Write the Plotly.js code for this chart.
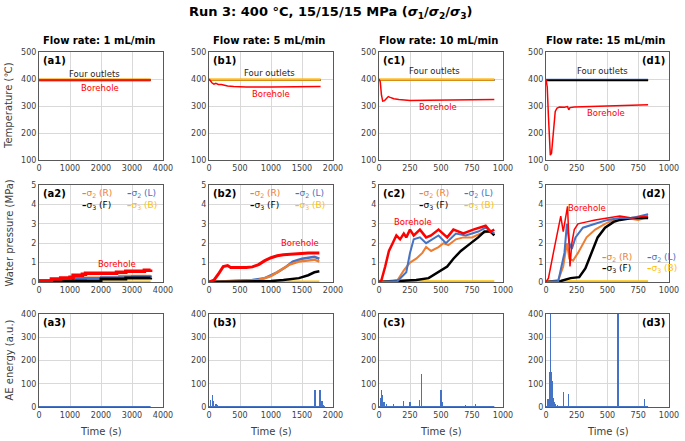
<!DOCTYPE html>
<html><head><meta charset="utf-8">
<script src="https://cdn.plot.ly/plotly-3.0.1.min.js"></script>
<style>html,body{margin:0;padding:0;background:#fff}</style>
</head><body>
<div id="chart" style="width:685px;height:441px"></div>
<script>
// colours, Excel style
const RED = '#FF0000', ORANGE = '#ED7D31', BLUE = '#4472C4', BLACK = '#000000', YELLOW = '#FFC000';

const panelTitles = ['Flow rate: 1 mL/min', 'Flow rate: 5 mL/min', 'Flow rate: 10 mL/min', 'Flow rate: 15 mL/min'];
const panelTags = ['(a1)', '(b1)', '(c1)', '(d1)', '(a2)', '(b2)', '(c2)', '(d2)', '(a3)', '(b3)', '(c3)', '(d3)'];
const rowTitles = ['Temperature (\u2103)', 'Water pressure (MPa)', 'AE energy (a.u.)'];
const xMax = [4000, 2000, 1000, 1000];
const xStep = [1000, 500, 250, 250];
const yLims = [[100, 500], [0, 5], [0, 400]];
const yStep = [100, 1, 100];

// ---- temperature (row 1) ----
const a1_time = [0, 3600];
const a1_outR = [397, 397], a1_outL = [396, 396], a1_outF = [395, 395], a1_outB = [398, 398];
const a1_boreT = [0, 3600];
const a1_bore = [396, 396];

const b1_time = [0, 1800];
const b1_outR = [397, 397], b1_outL = [396, 396], b1_outF = [396, 396], b1_outB = [398, 398];
const b1_boreT = [0, 20, 50, 80, 110, 150, 200, 250, 300, 400, 600, 1000, 1400, 1800];
const b1_bore = [400, 393, 385, 381, 384, 380, 380, 377, 374, 372, 370, 370, 371, 372];

const c1_time = [0, 930];
const c1_outR = [397, 397], c1_outL = [396, 396], c1_outF = [396, 396], c1_outB = [398, 398];
const c1_boreT = [0, 10, 20, 30, 45, 60, 75, 90, 120, 160, 200, 250, 400, 600, 800, 930];
const c1_bore = [400, 390, 340, 318, 320, 328, 335, 332, 327, 324, 322, 320, 321, 322, 323, 324];

const d1_time = [0, 830];
const d1_outR = [396, 396], d1_outL = [397, 397], d1_outB = [396, 396], d1_outF = [395, 395];
const d1_boreT = [0, 10, 20, 28, 35, 45, 55, 65, 75, 90, 110, 150, 175, 185, 195, 230, 300, 400, 500, 600, 700, 830];
const d1_bore = [400, 370, 260, 160, 118, 125, 170, 240, 280, 292, 296, 295, 298, 286, 294, 296, 297, 299, 301, 302, 303, 305];

// ---- water pressure (row 2) ----
const a2_boreT = [0, 350, 400, 700, 1000, 1100, 1400, 1500, 2500, 2800, 3400, 3600];
const a2_bore = [0.05, 0.05, 0.15, 0.2, 0.25, 0.35, 0.4, 0.45, 0.5, 0.55, 0.6, 0.65];
const a2_rT = [0, 400, 1000, 1500, 2600, 3600];
const a2_r = [0.02, 0.05, 0.15, 0.2, 0.3, 0.32];
const a2_lT = [0, 700, 1100, 2000, 3000, 3600];
const a2_l = [0.02, 0.08, 0.2, 0.25, 0.3, 0.35];
const a2_fT = [0, 2000, 2800, 3600];
const a2_f = [0.05, 0.15, 0.2, 0.22];
const a2_bT = [0, 3600];
const a2_b = [0.02, 0.02];

const b2_boreT = [0, 80, 150, 230, 300, 350, 600, 700, 800, 900, 1000, 1100, 1200, 1400, 1600, 1780];
const b2_bore = [0, 0.1, 0.4, 0.8, 0.85, 0.75, 0.75, 0.78, 0.9, 1.1, 1.25, 1.35, 1.4, 1.45, 1.5, 1.5];
const b2_lT = [0, 400, 700, 900, 1100, 1250, 1350, 1500, 1700, 1780];
const b2_l = [0, 0.05, 0.1, 0.2, 0.5, 0.8, 1.05, 1.2, 1.3, 1.2];
const b2_rT = [0, 500, 800, 1000, 1150, 1300, 1450, 1600, 1700, 1780];
const b2_r = [0, 0.05, 0.1, 0.3, 0.6, 0.9, 1.05, 1.1, 1.15, 1.05];
const b2_fT = [0, 1000, 1200, 1450, 1600, 1700, 1780];
const b2_f = [0, 0.05, 0.1, 0.2, 0.35, 0.5, 0.55];
const b2_bT = [0, 1780];
const b2_b = [0.02, 0.02];

const c2_boreT = [0, 20, 50, 80, 110, 140, 170, 200, 220, 250, 280, 330, 380, 420, 480, 550, 600, 680, 760, 860, 900, 930];
const c2_bore = [0, 0.1, 0.8, 1.6, 2.0, 2.4, 2.2, 2.5, 2.3, 2.7, 2.4, 2.7, 2.3, 2.4, 2.7, 2.3, 2.7, 2.5, 2.7, 2.9, 2.6, 2.7];
const c2_lT = [0, 150, 220, 250, 280, 330, 380, 480, 540, 620, 700, 800, 860, 930];
const c2_l = [0, 0.05, 0.5, 1.5, 2.2, 2.3, 2.0, 2.4, 2.0, 2.5, 2.4, 2.6, 2.8, 2.5];
const c2_rT = [0, 150, 200, 250, 300, 350, 380, 420, 480, 520, 560, 620, 680, 750, 820, 880, 930];
const c2_r = [0, 0.1, 0.6, 1.0, 1.2, 1.5, 1.8, 1.6, 1.8, 2.0, 1.9, 2.2, 2.3, 2.3, 2.5, 2.6, 2.5];
const c2_fT = [0, 200, 300, 400, 480, 550, 600, 660, 720, 800, 850, 900, 930];
const c2_f = [0, 0.05, 0.1, 0.2, 0.5, 0.8, 1.2, 1.6, 1.9, 2.3, 2.6, 2.6, 2.4];
const c2_bT = [0, 930];
const c2_b = [0.02, 0.02];

const d2_boreT = [0, 20, 60, 90, 120, 140, 160, 175, 195, 210, 230, 260, 330, 400, 500, 600, 700, 830];
const d2_bore = [0, 0.2, 1.5, 2.5, 3.4, 2.6, 3.5, 3.9, 0.8, 2.0, 2.7, 3.0, 3.1, 3.2, 3.3, 3.4, 3.3, 3.4];
const d2_lT = [0, 100, 150, 170, 190, 210, 240, 300, 400, 500, 600, 700, 830];
const d2_l = [0, 0.05, 1.5, 3.0, 2.0, 1.7, 2.3, 2.8, 3.0, 3.2, 3.3, 3.3, 3.5];
const d2_rT = [0, 100, 140, 170, 190, 220, 260, 330, 400, 480, 550, 650, 750, 830];
const d2_r = [0, 0.1, 0.8, 2.0, 1.2, 1.1, 1.5, 2.3, 2.7, 3.0, 3.2, 3.3, 3.2, 3.35];
const d2_fT = [0, 120, 200, 270, 320, 370, 420, 480, 550, 600, 700, 830];
const d2_f = [0, 0.05, 0.2, 0.25, 0.7, 1.5, 2.3, 2.8, 3.1, 3.2, 3.3, 3.3];
const d2_bT = [0, 830];
const d2_b = [0.02, 0.02];

// ---- AE energy (row 3) ----
const a3_end = 3600;
const a3_t = [];
const a3_e = [];
const b3_end = 1870;
const b3_t = [30, 50, 60, 70, 80, 100, 120, 140, 1710, 1790, 1810, 1830, 1850];
const b3_e = [30, 50, 40, 25, 20, 15, 15, 10, 75, 75, 25, 25, 10];
const c3_end = 930;
const c3_t = [15, 20, 25, 30, 40, 60, 120, 200, 250, 330, 340, 500, 510, 700, 780];
const c3_e = [40, 75, 50, 30, 20, 15, 15, 25, 20, 30, 140, 75, 20, 10, 15];
const d3_end = 830;
const d3_t = [10, 20, 30, 35, 40, 45, 50, 55, 60, 70, 80, 90, 140, 185, 585, 800];
const d3_e = [35, 35, 150, 400, 270, 150, 110, 45, 40, 20, 15, 10, 65, 55, 400, 35];

const px = x => x / 685;
const py = y => 1 - y / 441;
const colPx = [[39, 163], [209, 333], [379, 503], [546, 669]];
const rowPx = [[52, 160], [185, 282], [314, 407]];

const traces = [];
const axName = n => (n === 1 ? '' : String(n));

function line(n, x, y, color, width, shape) {
  traces.push({
    type: 'scatter', mode: 'lines', x: x, y: y,
    xaxis: 'x' + axName(n), yaxis: 'y' + axName(n),
    line: {color: color, width: width, shape: shape || 'linear'},
    hoverinfo: 'skip'
  });
}

// row 1
line(1, a1_time, a1_outB, YELLOW, 2); line(1, a1_time, a1_outL, BLUE, 2);
line(1, a1_time, a1_outF, BLACK, 2); line(1, a1_time, a1_outR, ORANGE, 2);
line(1, a1_boreT, a1_bore, RED, 1.5);
line(2, b1_time, b1_outL, BLUE, 2); line(2, b1_time, b1_outF, BLACK, 2);
line(2, b1_time, b1_outR, ORANGE, 2); line(2, b1_time, b1_outB, YELLOW, 2);
line(2, b1_boreT, b1_bore, RED, 1.5);
line(3, c1_time, c1_outL, BLUE, 2); line(3, c1_time, c1_outF, BLACK, 2);
line(3, c1_time, c1_outR, ORANGE, 2); line(3, c1_time, c1_outB, YELLOW, 2);
line(3, c1_boreT, c1_bore, RED, 1.5);
line(4, d1_time, d1_outL, BLUE, 2); line(4, d1_time, d1_outR, ORANGE, 2);
line(4, d1_time, d1_outB, YELLOW, 2); line(4, d1_time, d1_outF, BLACK, 2);
line(4, d1_boreT, d1_bore, RED, 1.5);

// row 2
line(5, a2_bT, a2_b, YELLOW, 2, 'hv'); line(5, a2_rT, a2_r, ORANGE, 3, 'hv');
line(5, a2_lT, a2_l, BLUE, 2, 'hv'); line(5, a2_fT, a2_f, BLACK, 3, 'hv');
line(5, a2_boreT, a2_bore, RED, 3.5, 'hv');
line(6, b2_bT, b2_b, YELLOW, 2); line(6, b2_lT, b2_l, BLUE, 2.5);
line(6, b2_rT, b2_r, ORANGE, 2.5); line(6, b2_fT, b2_f, BLACK, 2.5);
line(6, b2_boreT, b2_bore, RED, 3);
line(7, c2_bT, c2_b, YELLOW, 2.5); line(7, c2_rT, c2_r, ORANGE, 2);
line(7, c2_fT, c2_f, BLACK, 2.5); line(7, c2_lT, c2_l, BLUE, 2);
line(7, c2_boreT, c2_bore, RED, 2.5);
line(8, d2_bT, d2_b, YELLOW, 2.5); line(8, d2_rT, d2_r, ORANGE, 2);
line(8, d2_fT, d2_f, BLACK, 2.5); line(8, d2_lT, d2_l, BLUE, 2);
line(8, d2_boreT, d2_bore, RED, 1.5);

// row 3: baseline plus spikes (about 1 px wide)
function ae(n, end, t, e, w) {
  line(n, [0, end], [0, 0], BLUE, 2);
  if (t.length) traces.push({
    type: 'bar', x: t, y: e, width: w,
    xaxis: 'x' + axName(n), yaxis: 'y' + axName(n),
    marker: {color: BLUE, line: {width: 0}}, hoverinfo: 'skip'
  });
}
ae(9, a3_end, a3_t, a3_e, 34);
ae(10, b3_end, b3_t, b3_e, 17);
ae(11, c3_end, c3_t, c3_e, 9);
ae(12, d3_end, d3_t, d3_e, 9);

const FONT = 'DejaVu Sans, Verdana, sans-serif';
const layout = {
  width: 685, height: 441,
  margin: {l: 0, r: 0, t: 0, b: 0},
  paper_bgcolor: '#fff', plot_bgcolor: '#fff',
  showlegend: false, bargap: 0,
  font: {family: FONT, size: 8, color: '#404040'},
  annotations: []
};

for (let n = 1; n <= 12; n++) {
  const r = Math.floor((n - 1) / 4), c = (n - 1) % 4;
  layout['xaxis' + axName(n)] = {
    domain: [px(colPx[c][0]), px(colPx[c][1])], anchor: 'y' + axName(n),
    range: [0, xMax[c]], dtick: xStep[c], tick0: 0,
    showline: true, mirror: true, linecolor: '#595959', linewidth: 1,
    showgrid: true, gridcolor: '#D9D9D9', zeroline: false, ticks: '',
    tickfont: {size: 8, color: '#404040'}, fixedrange: true
  };
  layout['yaxis' + axName(n)] = {
    domain: [py(rowPx[r][1]), py(rowPx[r][0])], anchor: 'x' + axName(n),
    range: yLims[r], dtick: yStep[r], tick0: 0,
    showline: true, mirror: true, linecolor: '#595959', linewidth: 1,
    showgrid: true, gridcolor: '#D9D9D9', zeroline: false, ticks: '',
    tickfont: {size: 8, color: '#404040'}, fixedrange: true
  };
  // panel tag, top right in the last column
  const tagRight = c === 3;
  layout.annotations.push({
    xref: 'paper', yref: 'paper', showarrow: false,
    x: tagRight ? px(colPx[c][1] - 2) : px(colPx[c][0] + 2),
    xanchor: tagRight ? 'right' : 'left',
    y: py(rowPx[r][0] + 1), yanchor: 'top',
    text: '<b>' + panelTags[n - 1] + '</b>', font: {size: 10, color: '#000'}
  });
}

const ann = layout.annotations;
function txt(x, y, text, opts) {
  ann.push(Object.assign({xref: 'paper', yref: 'paper', x: x, y: y, text: text, showarrow: false,
    xanchor: 'center', yanchor: 'middle'}, opts || {}));
}

// titles
txt(px(330), py(13), '<b>Run 3: 400 \u00b0C, 15/15/15 MPa (<i>\u03c3</i><sub>1</sub>/<i>\u03c3</i><sub>2</sub>/<i>\u03c3</i><sub>3</sub>)</b>',
  {font: {size: 13, color: '#000'}});
for (let c = 0; c < 4; c++) {
  txt(px((colPx[c][0] + colPx[c][1]) / 2 - 2), py(40), '<b>' + panelTitles[c] + '</b>', {font: {size: 10, color: '#000'}});
  txt(px((colPx[c][0] + colPx[c][1]) / 2), py(431), 'Time (s)', {font: {size: 10, color: '#404040'}});
}
for (let r = 0; r < 3; r++) {
  txt(px(9), py((rowPx[r][0] + rowPx[r][1]) / 2), rowTitles[r], {textangle: -90, font: {size: 10, color: '#404040'}});
}

// in-plot labels (data coordinates)
function lab(n, x, y, text, color, size) {
  ann.push({xref: 'x' + axName(n), yref: 'y' + axName(n), x: x, y: y, text: text, showarrow: false,
    xanchor: 'center', yanchor: 'middle', font: {size: size || 8.5, color: color}});
}
lab(1, 1800, 418, 'Four outlets', '#262626'); lab(1, 1970, 367, 'Borehole', RED);
lab(2, 970, 422, 'Four outlets', '#262626'); lab(2, 1000, 344, 'Borehole', RED);
lab(3, 445, 430, 'Four outlets', '#262626'); lab(3, 476, 296, 'Borehole', RED);
lab(4, 463, 430, 'Four outlets', '#262626'); lab(4, 488, 274, 'Borehole', RED);
lab(5, 2516, 0.93, 'Borehole', RED);
lab(6, 1468, 2.0, 'Borehole', RED);
lab(7, 274, 3.1, 'Borehole', RED);
lab(8, 333, 3.8, 'Borehole', RED);

// legend entries in row 2
const legR = '<span style="color:' + ORANGE + '"><b>\u2013</b>\u03c3<sub>2</sub> (R)</span>';
const legL = '<span style="color:' + BLUE + '"><b>\u2013</b>\u03c3<sub>2</sub> (L)</span>';
const legF = '<span style="color:#000"><b>\u2013</b>\u03c3<sub>3</sub> (F)</span>';
const legB = '<span style="color:' + YELLOW + '"><b>\u2013</b>\u03c3<sub>3</sub> (B)</span>';
const legOff = [[41, 193, 205], [39, 193, 205], [38, 193, 205], [54, 257, 268]];
for (let c = 0; c < 4; c++) {
  const x0 = colPx[c][0] + legOff[c][0];
  const o = {xanchor: 'left', font: {size: 9}};
  txt(px(x0), py(legOff[c][1]), legR, o);
  txt(px(x0 + 45), py(legOff[c][1]), legL, o);
  txt(px(x0), py(legOff[c][2]), legF, o);
  txt(px(x0 + 45), py(legOff[c][2]), legB, o);
}

Plotly.newPlot('chart', traces, layout, {displayModeBar: false, staticPlot: true});
</script>
</body></html>
